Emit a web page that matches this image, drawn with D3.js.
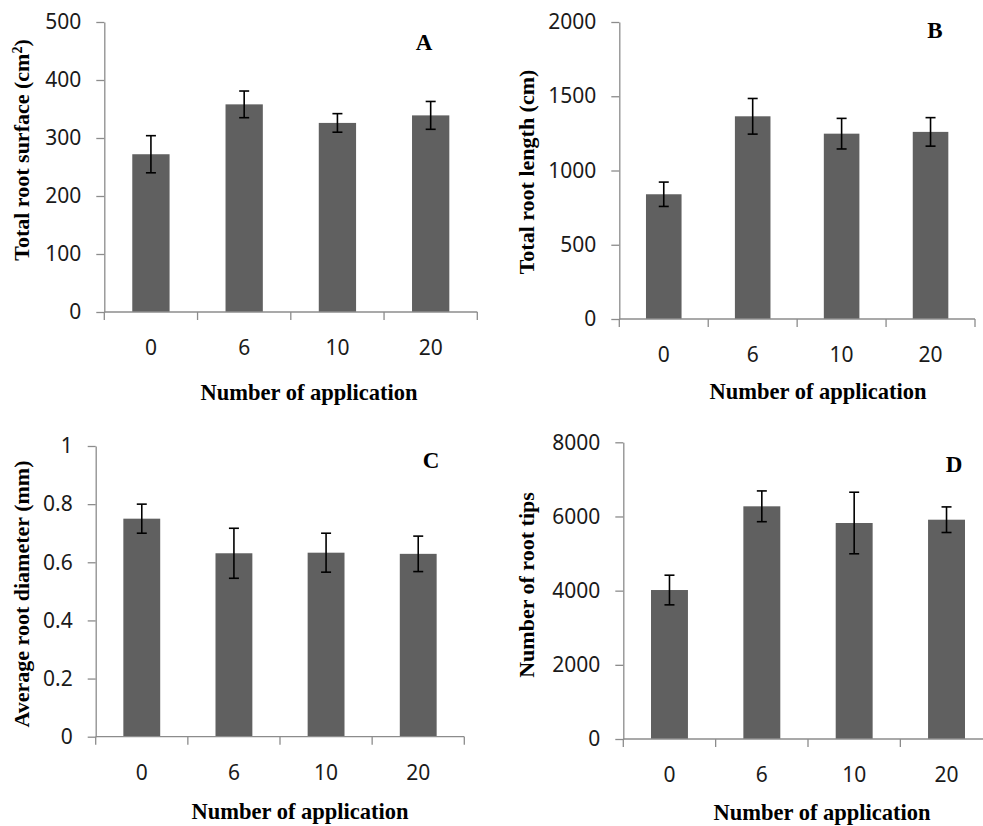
<!DOCTYPE html>
<html>
<head>
<meta charset="utf-8">
<script src="https://cdn.jsdelivr.net/npm/d3@7"></script>
<style>
  html, body { margin: 0; padding: 0; background: #fff; }
  svg { display: block; }
</style>
</head>
<body>
<svg id="chart" width="983" height="826"></svg>
<script>
// ---------- DATA ----------
const categories = ["0", "6", "10", "20"];
const xTitle = "Number of application";

const surfaceMean = [272, 358, 326, 339];
const surfaceErr  = [32, 23, 16, 24];
const surfaceTicks = [0, 100, 200, 300, 400, 500];

const lengthMean = [840, 1365, 1248, 1260];
const lengthErr  = [82, 120, 103, 96];
const lengthTicks = [0, 500, 1000, 1500, 2000];

const diameterMean = [0.75, 0.631, 0.633, 0.629];
const diameterErr  = [0.05, 0.086, 0.067, 0.061];
const diameterTicks = [0, 0.2, 0.4, 0.6, 0.8, 1];

const tipsMean = [4017, 6274, 5824, 5913];
const tipsErr  = [400, 415, 830, 345];
const tipsTicks = [0, 2000, 4000, 6000, 8000];

// ---------- LAYOUT ----------
const panels = [
  { letter: "A", title: ["Total root surface (cm", "2", ")"], mean: surfaceMean, err: surfaceErr, ticks: surfaceTicks,
    x0: 104.3, x1: 477.3, top: 22, base: 312,
    ytX: 22, ytY: 150, xtX: 309, xtY: 400, lX: 424, lY: 50 },
  { letter: "B", title: ["Total root length (cm)"], mean: lengthMean, err: lengthErr, ticks: lengthTicks,
    x0: 619.3, x1: 975, top: 22, base: 319,
    ytX: 527, ytY: 172, xtX: 818, xtY: 399, lX: 935, lY: 38 },
  { letter: "C", title: ["Average root diameter (mm)"], mean: diameterMean, err: diameterErr, ticks: diameterTicks,
    x0: 95.7, x1: 464.3, top: 446, base: 736.7,
    ytX: 22, ytY: 594, xtX: 300, xtY: 819, lX: 431, lY: 468 },
  { letter: "D", title: ["Number of root tips"], mean: tipsMean, err: tipsErr, ticks: tipsTicks,
    x0: 623.3, x1: 992.7, top: 442.3, base: 739,
    ytX: 527, ytY: 585, xtX: 822, xtY: 820, lX: 954, lY: 472 }
];

const svg = d3.select("#chart");
const axisColor = "#8c8c8c";
const barColor = "#606060";
const sansFont = "'Noto Sans', 'Open Sans', sans-serif";
const serifFont = "'Liberation Serif', 'DejaVu Serif', serif";

panels.forEach(p => {
  const g = svg.append("g");
  const x = d3.scaleBand().domain(categories).range([p.x0, p.x1]).paddingInner(0.6).paddingOuter(0.3);
  const yMax = p.ticks[p.ticks.length - 1];
  const y = d3.scaleLinear().domain([0, yMax]).range([p.base, p.top]);

  // bars
  g.selectAll("rect.bar").data(categories).join("rect")
    .attr("class", "bar")
    .attr("x", d => x(d))
    .attr("width", x.bandwidth())
    .attr("y", (d, i) => y(p.mean[i]))
    .attr("height", (d, i) => y(0) - y(p.mean[i]))
    .attr("fill", barColor);

  // y axis
  const yAxis = d3.axisLeft(y).tickValues(p.ticks).tickFormat(d => String(d))
    .tickSize(8).tickSizeOuter(0).tickPadding(15);
  const ya = g.append("g").attr("transform", `translate(${p.x0},0)`).call(yAxis);
  ya.select(".domain").attr("stroke", axisColor).attr("stroke-width", 1.3);
  ya.selectAll(".tick line").attr("stroke", axisColor).attr("stroke-width", 1.3);
  ya.selectAll(".tick text").attr("font-family", sansFont).attr("font-size", 21).attr("fill", "#1a1a1a");

  // x axis labels
  const xAxis = d3.axisBottom(x).tickSize(0).tickPadding(28);
  const xa = g.append("g").attr("transform", `translate(0,${p.base})`).call(xAxis);
  xa.select(".domain").remove();
  xa.selectAll(".tick text").attr("font-family", sansFont).attr("font-size", 21).attr("fill", "#1a1a1a");

  // x axis line and category boundary ticks
  g.append("line").attr("x1", p.x0).attr("x2", p.x1).attr("y1", p.base).attr("y2", p.base)
    .attr("stroke", axisColor).attr("stroke-width", 1.3);
  const step = x.step();
  const bounds = d3.range(categories.length + 1).map(i => p.x0 + i * step);
  g.selectAll("line.xt").data(bounds).join("line").attr("class", "xt")
    .attr("x1", d => d).attr("x2", d => d).attr("y1", p.base).attr("y2", p.base + 8)
    .attr("stroke", axisColor).attr("stroke-width", 1.3);

  // error bars
  const cap = 5;
  const eb = g.selectAll("g.err").data(categories).join("g").attr("class", "err")
    .attr("stroke", "#000").attr("stroke-width", 1.6);
  eb.append("line")
    .attr("x1", d => x(d) + x.bandwidth() / 2).attr("x2", d => x(d) + x.bandwidth() / 2)
    .attr("y1", (d, i) => y(p.mean[i] + p.err[i])).attr("y2", (d, i) => y(p.mean[i] - p.err[i]));
  eb.append("line")
    .attr("x1", d => x(d) + x.bandwidth() / 2 - cap).attr("x2", d => x(d) + x.bandwidth() / 2 + cap)
    .attr("y1", (d, i) => y(p.mean[i] + p.err[i])).attr("y2", (d, i) => y(p.mean[i] + p.err[i]));
  eb.append("line")
    .attr("x1", d => x(d) + x.bandwidth() / 2 - cap).attr("x2", d => x(d) + x.bandwidth() / 2 + cap)
    .attr("y1", (d, i) => y(p.mean[i] - p.err[i])).attr("y2", (d, i) => y(p.mean[i] - p.err[i]));

  // y title
  const yt = g.append("text")
    .attr("transform", `translate(${p.ytX},${p.ytY}) rotate(-90)`)
    .attr("text-anchor", "middle").attr("dy", "0.33em")
    .attr("font-family", serifFont).attr("font-weight", "bold").attr("font-size", 22).attr("fill", "#000");
  yt.append("tspan").text(p.title[0]);
  if (p.title.length > 1) {
    yt.append("tspan").attr("baseline-shift", "super").attr("font-size", 14).text(p.title[1]);
    yt.append("tspan").text(p.title[2]);
  }

  // x title
  g.append("text").attr("x", p.xtX).attr("y", p.xtY).attr("text-anchor", "middle")
    .attr("font-family", serifFont).attr("font-weight", "bold").attr("font-size", 22.5).attr("fill", "#000")
    .text(xTitle);

  // panel letter
  g.append("text").attr("x", p.lX).attr("y", p.lY).attr("text-anchor", "middle")
    .attr("font-family", serifFont).attr("font-weight", "bold").attr("font-size", 23).attr("fill", "#000")
    .text(p.letter);
});
</script>
</body>
</html>
